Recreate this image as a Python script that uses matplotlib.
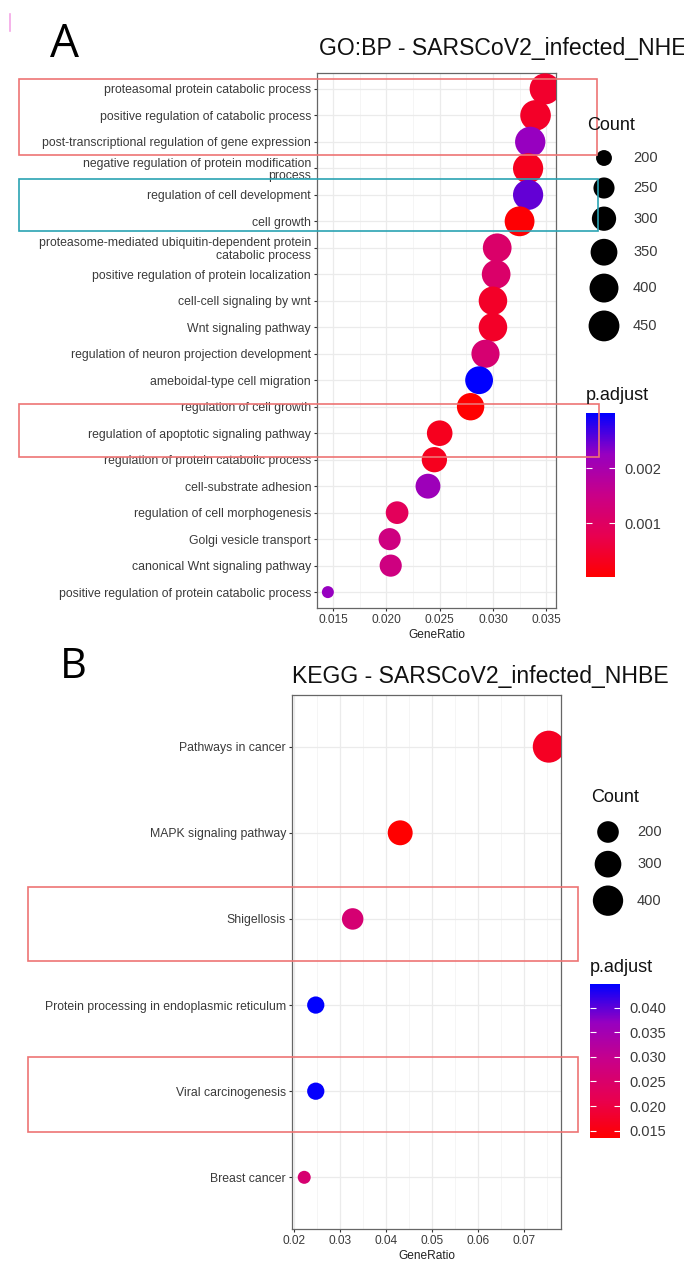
import numpy as np
import matplotlib
matplotlib.use("Agg")
import matplotlib.pyplot as plt
from matplotlib.colors import LinearSegmentedColormap, Normalize
from matplotlib.patches import Rectangle
from matplotlib.ticker import MultipleLocator, FormatStrFormatter

plt.rcParams['font.family'] = ['Liberation Sans', 'DejaVu Sans']

W, H, DPI = 684, 1266, 100

# GO:BP enrichment (top to bottom)
go_terms = [
    "proteasomal protein catabolic process",
    "positive regulation of catabolic process",
    "post-transcriptional regulation of gene expression",
    "negative regulation of protein modification\nprocess",
    "regulation of cell development",
    "cell growth",
    "proteasome-mediated ubiquitin-dependent protein\ncatabolic process",
    "positive regulation of protein localization",
    "cell-cell signaling by wnt",
    "Wnt signaling pathway",
    "regulation of neuron projection development",
    "ameboidal-type cell migration",
    "regulation of cell growth",
    "regulation of apoptotic signaling pathway",
    "regulation of protein catabolic process",
    "cell-substrate adhesion",
    "regulation of cell morphogenesis",
    "Golgi vesicle transport",
    "canonical Wnt signaling pathway",
    "positive regulation of protein catabolic process",
]
go_ratio = [0.0349, 0.0340, 0.0335, 0.0333, 0.0333, 0.0325, 0.0304, 0.0303,
            0.0300, 0.0300, 0.0293, 0.0287, 0.0279, 0.0250, 0.0245, 0.0239,
            0.0210, 0.0203, 0.0204, 0.0145]
go_count = [455, 443, 436, 433, 433, 423, 395, 394, 390, 390, 381, 373, 363,
            325, 319, 311, 273, 264, 265, 189]
go_padj = [0.00044, 0.00040, 0.00225, 0.00030, 0.00250, 0.00005, 0.00110,
           0.00110, 0.00040, 0.00040, 0.00120, 0.00300, 0.00002, 0.00030,
           0.00030, 0.00216, 0.00090, 0.00140, 0.00140, 0.00225]

# KEGG enrichment (top to bottom)
kegg_terms = [
    "Pathways in cancer",
    "MAPK signaling pathway",
    "Shigellosis",
    "Protein processing in endoplasmic reticulum",
    "Viral carcinogenesis",
    "Breast cancer",
]
kegg_ratio = [0.0753, 0.0431, 0.0328, 0.0248, 0.0248, 0.0223]
kegg_count = [454, 260, 198, 150, 150, 134]
kegg_padj = [0.0170, 0.0135, 0.0262, 0.0448, 0.0445, 0.0258]

go_count_breaks = [200, 250, 300, 350, 400, 450]
go_padj_ticks = [0.001, 0.002]
kegg_count_breaks = [200, 300, 400]
kegg_padj_ticks = [0.015, 0.020, 0.025, 0.030, 0.035, 0.040]

cmap = LinearSegmentedColormap.from_list(
    "red_blue", ["#FF0000", "#E80050", "#C90088", "#9700C0", "#0000FF"])

TXT = "#3a3a3a"


def diam(values, data, dmin, dmax):
    # point diameter in px, sqrt scaling between data min and max
    v = np.asarray(values, float)
    lo, hi = min(data), max(data)
    return dmin + np.sqrt(np.clip((v - lo) / (hi - lo), 0, 1)) * (dmax - dmin)


def area(d):
    return (np.asarray(d) * 72.0 / DPI) ** 2


fig = plt.figure(figsize=(W / DPI, H / DPI), dpi=DPI)


def px_axes(x0, y0, x1, y1, **kw):
    return fig.add_axes([x0 / W, 1 - y1 / H, (x1 - x0) / W, (y1 - y0) / H], **kw)


def dot_panel(box, terms, ratio, count, padj, dlim, major, fmt):
    ax = px_axes(*box)
    n = len(terms)
    yy = np.arange(n)
    norm = Normalize(min(padj), max(padj))
    sc = ax.scatter(ratio, yy, s=area(diam(count, count, *dlim)), c=padj,
                    cmap=cmap, norm=norm, edgecolors="none", zorder=3)
    lo, hi = min(ratio), max(ratio)
    pad = 0.05 * (hi - lo)
    ax.set_xlim(lo - pad, hi + pad)
    ax.set_ylim(n - 1 + 0.6, -0.6)
    ax.set_yticks(yy)
    ax.set_yticklabels(terms, fontsize=8.85, color=TXT, linespacing=1.05)
    ax.xaxis.set_major_locator(MultipleLocator(major))
    ax.xaxis.set_minor_locator(MultipleLocator(major / 2))
    ax.xaxis.set_major_formatter(FormatStrFormatter(fmt))
    ax.tick_params(axis="both", which="major", length=2.3, width=0.8,
                   color="#333333", labelsize=8.6, labelcolor=TXT, pad=2)
    ax.tick_params(axis="y", labelsize=8.85)
    ax.tick_params(axis="x", which="minor", length=0)
    ax.set_axisbelow(True)
    ax.grid(which="major", color="#EBEBEB", lw=0.9)
    ax.grid(which="minor", axis="x", color="#F2F2F2", lw=0.5)
    for s in ax.spines.values():
        s.set_color("#666666")
        s.set_linewidth(0.9)
    ax.set_xlabel("GeneRatio", fontsize=8.6, color="#222222", labelpad=2.5)
    return ax, sc


ax1, sc1 = dot_panel((317, 73, 556, 608), go_terms, go_ratio, go_count,
                     go_padj, (12, 31), 0.005, "%.3f")
ax2, sc2 = dot_panel((292, 695, 561, 1229), kegg_terms, kegg_ratio, kegg_count,
                     kegg_padj, (13, 32), 0.01, "%.2f")


def colorbar(sc, box, ticks):
    cax = px_axes(*box)
    cb = fig.colorbar(sc, cax=cax, ticks=ticks)
    cb.outline.set_visible(False)
    cax.yaxis.set_ticks_position("both")
    cax.yaxis.set_major_formatter(FormatStrFormatter("%.3f"))
    cax.tick_params(axis="y", which="both", direction="in", color="white",
                    length=4.5, width=0.8, labelsize=10.5, labelcolor=TXT,
                    pad=7, labelleft=False, labelright=True)
    cax.minorticks_off()
    return cb


colorbar(sc1, (586, 413, 615, 577), go_padj_ticks)
colorbar(sc2, (590, 984, 620, 1138), kegg_padj_ticks)

# overlay in pixel coordinates for titles, legends and highlight boxes
ov = fig.add_axes([0, 0, 1, 1])
ov.set_zorder(10)
ov.patch.set_alpha(0)
ov.set_xlim(0, W)
ov.set_ylim(H, 0)
ov.axis("off")

ov.text(319, 48, "GO:BP - SARSCoV2_infected_NHE", fontsize=16.6, ha="left",
        va="center", color="#111111")
ov.text(292, 676, "KEGG - SARSCoV2_infected_NHBE", fontsize=16.6, ha="left",
        va="center", color="#111111")
ov.text(65, 45, "A", fontsize=33, family="Open Sans", ha="center", va="center")
ov.text(73, 667, "B", fontsize=30, family="Open Sans", ha="center", va="center")
ov.plot([10, 10], [14, 31], color="#F4A6E6", lw=1.2)


def count_legend(x_title, y_title, x_dot, x_lab, y0, breaks, data, dlim):
    ov.text(x_title, y_title, "Count", fontsize=13, ha="left", va="center",
            color="#111111")
    d = diam(breaks, data, *dlim)
    y = y0
    for i, b in enumerate(breaks):
        if i > 0:
            y += max((d[i - 1] + d[i]) / 2 + 8, 30)
        ov.scatter([x_dot], [y], s=area(d[i]), color="black", edgecolors="none")
        ov.text(x_lab, y, str(b), fontsize=10.5, ha="left", va="center",
                color=TXT)


count_legend(587, 125, 604, 633, 158, go_count_breaks, go_count, (12, 31))
count_legend(591, 797, 608, 637, 832, kegg_count_breaks, kegg_count, (13, 32))
ov.text(586, 395, "p.adjust", fontsize=13, ha="left", va="center",
        color="#111111")
ov.text(590, 967, "p.adjust", fontsize=13, ha="left", va="center",
        color="#111111")

# highlight boxes
red, teal = "#EE7474", "#2AA3B3"
for (x0, y0, x1, y1), col in [((19, 79, 597, 155), red),
                              ((19, 179, 598, 231), teal),
                              ((19, 404, 599, 457), red),
                              ((28, 887, 578, 961), red),
                              ((28, 1057, 578, 1132), red)]:
    ov.add_patch(Rectangle((x0, y0), x1 - x0, y1 - y0, fill=False,
                           edgecolor=col, lw=1.2))

fig.savefig("out.png", dpi=DPI)
